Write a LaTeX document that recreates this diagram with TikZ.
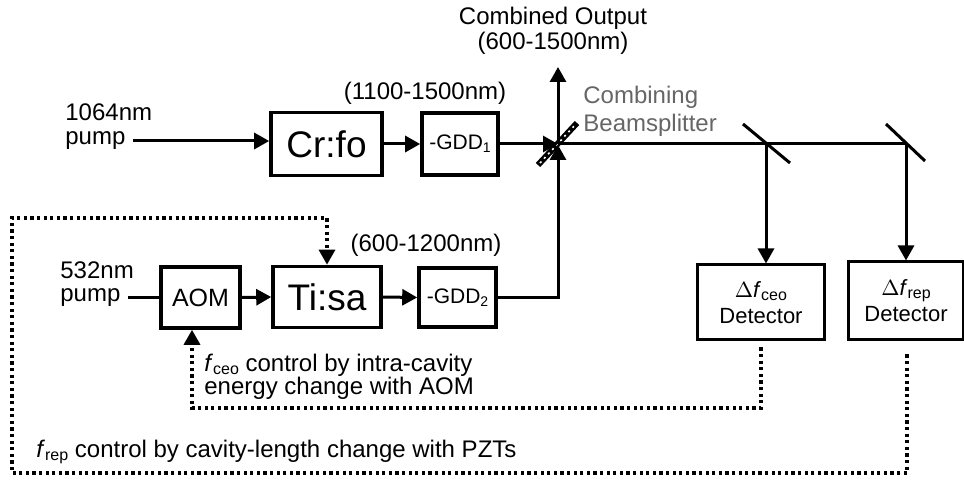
\documentclass[tikz,border=0pt]{standalone}
\usepackage{fontspec}
\setmainfont{Liberation Sans}
\usetikzlibrary{arrows.meta}
\newcommand\subs[1]{\raisebox{-0.25ex}{\fontsize{8}{8}\selectfont #1}}
\newcommand\subsm[1]{\raisebox{-0.25ex}{\fontsize{7}{7}\selectfont #1}}
\begin{document}
\begin{tikzpicture}[x=0.5pt,y=-0.5pt,
  txt/.style={inner sep=0pt, font=\fontsize{12}{14}\selectfont},
  boxn/.style={draw, line width=1.8pt, inner sep=0pt},
  bigtxt/.style={font=\fontsize{18.5}{20}\selectfont},
  gddtxt/.style={font=\fontsize{10.5}{12}\selectfont},
  dettxt/.style={font=\fontsize{11}{13}\selectfont, align=center},
  beam/.style={line width=1.5pt},
  arr/.style={-{Triangle[length=7.5pt,width=8pt]}},
  ctl/.style={line width=1.6pt, dash pattern=on 1.6pt off 1.7pt},
  mirror/.style={line width=1.5pt}
]
\useasboundingbox (0,0) rectangle (964,480);

% top row
\node[txt, anchor=west] (l1064) at (65,112) {1064nm};
\node[txt, anchor=west] (pump1) at (65,141) {pump};
\node[boxn, bigtxt, minimum width=55.5pt, minimum height=31.5pt] (crfo) at (326.5,144) {Cr:fo};
\node[boxn, gddtxt, minimum width=38pt, minimum height=31pt] (gdd1) at (460,144) {-GDD\subsm{1}};
\node[txt] (r1) at (425,93) {(1100-1500nm)};

% bottom row
\node[txt, anchor=west] (l532) at (60,270) {532nm};
\node[txt, anchor=west] (pump2) at (60,298) {pump};
\node[boxn, font=\fontsize{12.5}{14}\selectfont, minimum width=39.5pt, minimum height=30.5pt] (aom) at (200.5,297.5) {AOM};
\node[boxn, bigtxt, minimum width=54pt, minimum height=30.5pt] (tisa) at (327,297) {Ti:sa};
\node[boxn, gddtxt, minimum width=38.5pt, minimum height=29.5pt] (gdd2) at (457.5,297.5) {-GDD\subsm{2}};
\node[txt] (r2) at (426,245) {(600-1200nm)};

% combiner and outputs
\coordinate (bs) at (558,144);
\coordinate (outtip) at (558,67);
\coordinate (m1) at (766,144);
\coordinate (m2) at (906,144);
\node[txt, align=center, font=\fontsize{12}{12.5}\selectfont] (out) at (553,31) {Combined Output\\(600-1500nm)};
\node[txt, anchor=west, align=left, text=black!60, font=\fontsize{12}{14}\selectfont] (bstxt) at (583,111) {Combining\\Beamsplitter};

% detectors
\node[boxn, line width=1.5pt, dettxt, minimum width=63.5pt, minimum height=37.5pt] (det1) at (761,302.5) {$\Delta$\textit{f}\subs{ceo}\\Detector};
\node[boxn, line width=1.5pt, dettxt, minimum width=57.5pt, minimum height=39pt] (det2) at (906,301) {$\Delta$\textit{f}\subs{rep}\\Detector};

% beamsplitter
\draw[line width=3pt] (bs) ++(-20,21) -- ++(39,-42);
\draw[line width=0.8pt, white, dash pattern=on 1pt off 2pt] (bs) ++(-18,19) -- ++(35,-38);

% beams
\draw[beam, arr] ([xshift=3.5pt]pump1.east) -- (crfo.west |- pump1.east);
\draw[beam, arr] (crfo.east) -- (gdd1.west);
\draw[beam, arr] (gdd1.east) -- (bs);
\draw[beam] (pump2.east) ++(3.5pt,0) -- (aom.west |- pump2.east);
\draw[beam, arr] (aom.east) -- (tisa.west);
\draw[beam, arr] (tisa.east) -- (gdd2.west);
\draw[beam, arr] (gdd2.east) -| ([yshift=-0.5pt]bs);
\draw[beam, arr] (bs) -- (outtip);
\draw[beam] (bs) -- (m2);
\draw[beam, arr] (m1) -- (m1 |- det1.north);
\draw[beam, arr] (m2) -- (m2 |- det2.north);
\draw[mirror] (m1) ++(-23,-20) -- ++(47,39);
\draw[mirror] (m2) ++(-20,-20) -- ++(39,37);

% control loops
\coordinate (bl) at (12,473);
\coordinate (tl) at (12,218);
\coordinate (fb) at (192,408);
\draw[ctl, arr] ([xshift=0.5pt,yshift=-6.5pt]det2.south) |- (bl) -- (tl) -| (tisa.north);
\draw[ctl, arr] ([yshift=-3pt]det1.south) |- (fb) -- (fb |- aom.south);

\node[txt, anchor=west, align=left, font=\fontsize{12}{11.5}\selectfont] (fceotxt) at (204,377) {\textit{f}\subs{ceo} control by intra-cavity\\energy change with AOM};
\node[txt, anchor=west] (freptxt) at (36,452) {\textit{f}\subs{rep} control by cavity-length change with PZTs};
\end{tikzpicture}
\end{document}
